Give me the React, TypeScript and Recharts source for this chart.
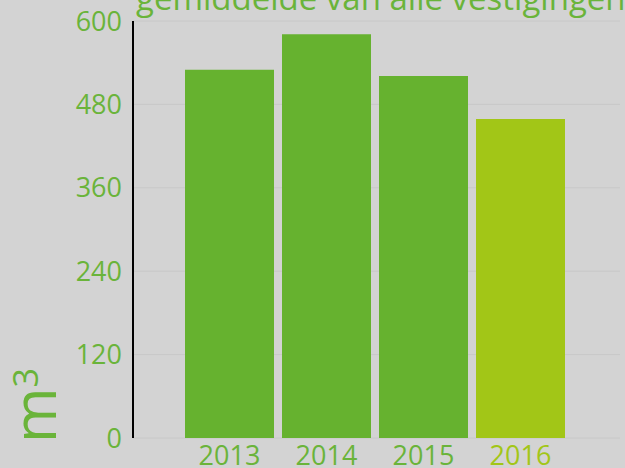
import { Bar, BarChart, CartesianGrid, Cell, XAxis, YAxis } from 'recharts';

const years = ['2013', '2014', '2015', '2016'];
const volumes = [530, 581, 521, 459];
const barColors = ['#66b22f', '#66b22f', '#66b22f', '#a2c617'];
const yTicks = [0, 120, 240, 360, 480, 600];

const title = 'gemiddelde van alle vestigingen';
const unitLabel = 'm';

const data = years.map((year, i) => ({ year, volume: volumes[i], color: barColors[i] }));

const green = '#6ab43a';
const font = '"Open Sans", "Noto Sans", sans-serif';

const YearTick = ({ x, y, payload, index }: any) => (
  <text
    x={x}
    y={y + 19}
    textAnchor="middle"
    fill={barColors[index] === '#a2c617' ? '#a2c617' : green}
    fontSize={27}
    fontFamily={font}
  >
    {payload.value}
  </text>
);

const App = () => (
  <div
    style={{
      position: 'absolute',
      left: 0,
      top: 0,
      width: 625,
      height: 468,
      background: '#d3d3d3',
      overflow: 'hidden',
    }}
  >
    <svg width={625} height={468} style={{ position: 'absolute', left: 0, top: 0 }}>
      <text x={136} y={10} fill={green} fontSize={33} fontFamily={font}>
        {title}
      </text>
      <text
        transform="translate(56, 443) rotate(-90)"
        fill={green}
        fontSize={60}
        fontFamily={font}
      >
        {unitLabel}
        <tspan fontSize={34} dy={-18}>3</tspan>
      </text>
    </svg>
    <div style={{ position: 'absolute', left: 0, top: 0 }}>
      <BarChart
        width={625}
        height={468}
        data={data}
        margin={{ top: 21, right: 5, bottom: 0, left: 0 }}
        barCategoryGap={4}
      >
        <CartesianGrid vertical={false} stroke="#c8c8c8" />
        <XAxis
          dataKey="year"
          height={30}
          axisLine={false}
          tickLine={false}
          interval={0}
          padding={{ left: 48, right: 51 }}
          tick={<YearTick />}
        />
        <YAxis
          width={133}
          domain={[0, 600]}
          ticks={yTicks}
          axisLine={{ stroke: '#000', strokeWidth: 2 }}
          tickLine={false}
          tick={{ fill: green, fontSize: 27, fontFamily: font }}
          tickMargin={5}
        />
        <Bar dataKey="volume" isAnimationActive={false}>
          {data.map((entry, index) => (
            <Cell key={`cell-${index}`} fill={entry.color} />
          ))}
        </Bar>
      </BarChart>
    </div>
  </div>
);

export default App;
